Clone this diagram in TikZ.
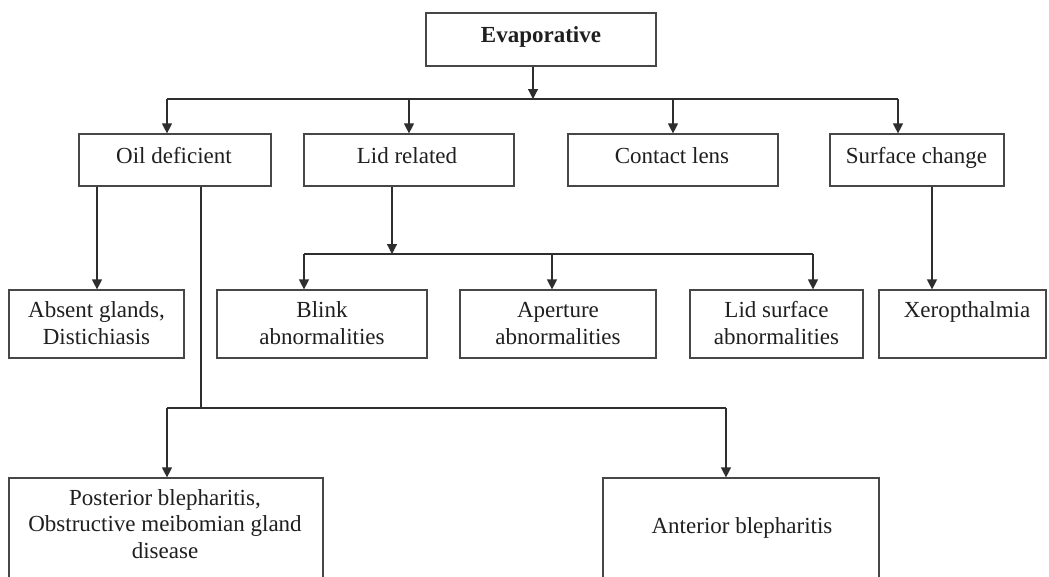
\documentclass[tikz,border=0pt]{standalone}
\usepackage{fontspec}
\setmainfont{Liberation Serif}
\usetikzlibrary{arrows.meta}
\tikzset{
  box/.style={draw=black!72, line width=1.2pt, rectangle, inner sep=0pt},
  txt/.style={font=\fontsize{23}{26.5}\selectfont, text=black!88, align=center, inner sep=0pt, anchor=base},
  conn/.style={draw=black!82, line width=1.2pt},
  arr/.style={conn, -{Triangle[width=10pt,length=10pt]}},
}
\begin{document}
\begin{tikzpicture}[x=1pt,y=-1pt]
\useasboundingbox (0,0) rectangle (1049,576);
\clip (0,0) rectangle (1049,576);
\fill[white] (0,0) rectangle (1049,576);

% boxes
\node[box, minimum width=230, minimum height=53] (evap) at (541,39.5) {};
\node[box, minimum width=192, minimum height=52] (oil) at (175,160) {};
\node[box, minimum width=210, minimum height=52] (lid) at (409,160) {};
\node[box, minimum width=210, minimum height=52] (contact) at (673,160) {};
\node[box, minimum width=174, minimum height=52] (surface) at (917,160) {};
\node[box, minimum width=175, minimum height=68] (absent) at (96.5,324) {};
\node[box, minimum width=210, minimum height=68] (blink) at (322,324) {};
\node[box, minimum width=196, minimum height=68] (aperture) at (558,324) {};
\node[box, minimum width=173, minimum height=68] (lidsurf) at (776.5,324) {};
\node[box, minimum width=167, minimum height=68] (xero) at (962.5,324) {};
\node[box, minimum width=314, minimum height=122] (posterior) at (166,539) {};
\node[box, minimum width=276, minimum height=122] (anterior) at (741,539) {};

% texts (base anchor = baseline of the last line)
\node[txt, font=\fontsize{23}{26.5}\selectfont\bfseries] (evap-t) at (541,42) {Evaporative};
\node[txt] (oil-t) at (174,163) {Oil deficient};
\node[txt] (lid-t) at (407,163) {Lid related};
\node[txt] (contact-t) at (672,163) {Contact lens};
\node[txt] (surface-t) at (916.5,163) {Surface change};
\node[txt] (absent-t) at (96.5,344) {Absent glands,\\Distichiasis};
\node[txt] (blink-t) at (322,344) {Blink\\abnormalities};
\node[txt] (aperture-t) at (558,344) {Aperture\\abnormalities};
\node[txt] (lidsurf-t) at (776.5,344) {Lid surface\\abnormalities};
\node[txt] (xero-t) at (967,317) {Xeropthalmia};
\node[txt] (posterior-t) at (165,558) {Posterior blepharitis,\\Obstructive meibomian gland\\disease};
\node[txt] (anterior-t) at (742,533) {Anterior blepharitis};

% coordinates
\coordinate (b0) at (533,99);
\coordinate (busL) at (167,99);
\coordinate (busR) at (898,99);
\coordinate (xlid) at (409,99);
\coordinate (xcon) at (673,99);
\coordinate (xabs) at (97,0);
\coordinate (b2) at (392,254);
\coordinate (b2L) at (304,254);
\coordinate (b2M) at (552,254);
\coordinate (b2R) at (813,254);
\coordinate (xsur) at (932,0);
\coordinate (xoil) at (201,0);
\coordinate (b3L) at (167,408);
\coordinate (b3R) at (726,408);

% level 1 -> 2
\draw[arr] (evap.south -| b0) -- (b0);
\draw[conn] (busL) -- (busR);
\draw[arr] (busL) -- (oil.north -| busL);
\draw[arr] (xlid) -- (lid.north -| xlid);
\draw[arr] (xcon) -- (contact.north -| xcon);
\draw[arr] (busR) -- (surface.north -| busR);

% oil deficient
\draw[arr] (oil.south -| xabs) -- (absent.north -| xabs);
\draw[conn] (oil.south -| xoil) -- (b3L -| xoil);
\draw[conn] (b3L) -- (b3R);
\draw[arr] (b3L) -- (posterior.north -| b3L);
\draw[arr] (b3R) -- (anterior.north -| b3R);

% lid related
\draw[arr] (lid.south -| b2) -- (b2);
\draw[conn] (b2L) -- (b2R);
\draw[arr] (b2L) -- (blink.north -| b2L);
\draw[arr] (b2M) -- (aperture.north -| b2M);
\draw[arr] (b2R) -- (lidsurf.north -| b2R);

% surface change
\draw[arr] (surface.south -| xsur) -- (xero.north -| xsur);
\end{tikzpicture}
\end{document}
